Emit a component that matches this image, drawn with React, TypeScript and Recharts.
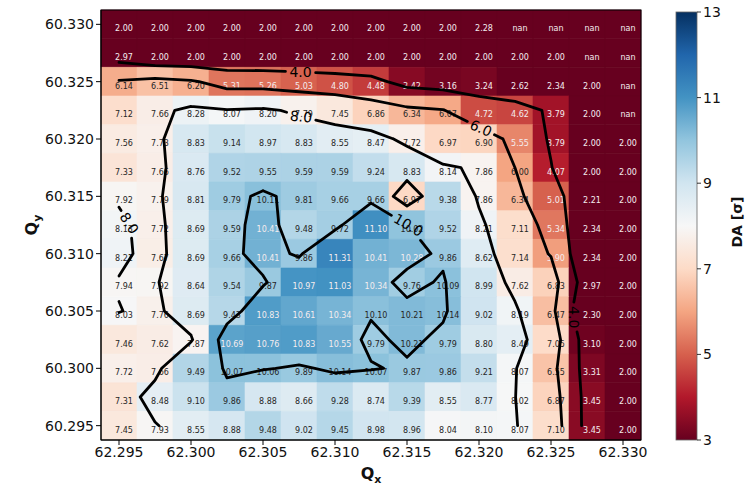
import React from 'react';
import { ScatterChart, Scatter, XAxis, YAxis, ReferenceArea } from 'recharts';

// Tune grid (cell centres)
const qx = [62.295, 62.2975, 62.3, 62.3025, 62.305, 62.3075, 62.31, 62.3125, 62.315, 62.3175, 62.32, 62.3225, 62.325, 62.3275, 62.33];
// rows listed from top (highest Qy) to bottom
const qy = [60.33, 60.3275, 60.325, 60.3225, 60.32, 60.3175, 60.315, 60.3125, 60.31, 60.3075, 60.305, 60.3025, 60.3, 60.2975, 60.295];

// Dynamic aperture [sigma]; null = nan
const daRows: (number | null)[][] = [
  [2.00, 2.00, 2.00, 2.00, 2.00, 2.00, 2.00, 2.00, 2.00, 2.00, 2.28, null, null, null, null],
  [2.97, 2.00, 2.00, 2.00, 2.00, 2.00, 2.00, 2.00, 2.00, 2.00, 2.00, 2.00, 2.00, null, null],
  [6.14, 6.51, 6.20, 5.31, 5.26, 5.03, 4.80, 4.48, 3.42, 3.16, 3.24, 2.62, 2.34, 2.00, null],
  [7.12, 7.66, 8.28, 8.07, 8.20, 7.79, 7.45, 6.86, 6.34, 6.07, 4.72, 4.62, 3.79, 2.00, null],
  [7.56, 7.73, 8.83, 9.14, 8.97, 8.83, 8.55, 8.47, 7.72, 6.97, 6.90, 5.55, 3.79, 2.00, 2.00],
  [7.33, 7.66, 8.76, 9.52, 9.55, 9.59, 9.59, 9.24, 8.83, 8.14, 7.86, 6.00, 4.07, 2.00, 2.00],
  [7.92, 7.79, 8.81, 9.79, 10.11, 9.81, 9.66, 9.66, 6.97, 9.38, 7.86, 6.34, 5.01, 2.21, 2.00],
  [8.13, 7.72, 8.69, 9.59, 10.41, 9.48, 9.72, 11.10, 10.02, 9.52, 8.21, 7.11, 5.34, 2.34, 2.00],
  [8.21, 7.67, 8.69, 9.66, 10.41, 9.86, 11.31, 10.41, 10.28, 9.86, 8.62, 7.14, 5.90, 2.34, 2.00],
  [7.94, 7.92, 8.64, 9.54, 9.87, 10.97, 11.03, 10.34, 9.76, 10.09, 8.99, 7.62, 6.83, 2.97, 2.00],
  [8.03, 7.76, 8.69, 9.43, 10.83, 10.61, 10.34, 10.10, 10.21, 10.14, 9.02, 8.19, 6.47, 2.30, 2.00],
  [7.46, 7.62, 7.87, 10.69, 10.76, 10.83, 10.55, 9.79, 10.21, 9.79, 8.80, 8.49, 7.05, 3.10, 2.00],
  [7.72, 7.66, 9.49, 10.07, 10.06, 9.89, 10.14, 10.07, 9.87, 9.86, 9.21, 8.07, 6.55, 3.31, 2.00],
  [7.31, 8.48, 9.10, 9.86, 8.88, 8.66, 9.28, 8.74, 9.39, 8.55, 8.77, 8.02, 6.87, 3.45, 2.00],
  [7.45, 7.93, 8.55, 8.88, 9.48, 9.02, 9.45, 8.98, 8.96, 8.04, 8.10, 8.07, 7.10, 3.45, 2.00],
];

const xTicks = [62.295, 62.3, 62.305, 62.31, 62.315, 62.32, 62.325, 62.33];
const yTicks = [60.295, 60.3, 60.305, 60.31, 60.315, 60.32, 60.325, 60.33];
const colorTicks = [3, 5, 7, 9, 11, 13];
const colorMin = 3;
const colorMax = 13;
const contourLevels = [4, 6, 8, 10];

// approximate anchor of each inline contour label (snapped onto its line)
const contourLabels = [
  { level: 4, x: 62.3076, y: 60.3257, angle: 0 },
  { level: 8, x: 62.3076, y: 60.3218, angle: 6 },
  { level: 6, x: 62.3201, y: 60.3209, angle: 24 },
  { level: 10, x: 62.3152, y: 60.3127, angle: 30 },
  { level: 8, x: 62.2958, y: 60.3127, angle: 57 },
  { level: 4, x: 62.3268, y: 60.3045, angle: 90 },
];

const RDBU = ['#67001f', '#b2182b', '#d6604d', '#f4a582', '#fddbc7', '#f7f7f7', '#d1e5f0', '#92c5de', '#4393c3', '#2166ac', '#053061'];

function hexToRgb(h: string) {
  return [parseInt(h.slice(1, 3), 16), parseInt(h.slice(3, 5), 16), parseInt(h.slice(5, 7), 16)];
}

function rdbu(v: number | null): string {
  if (v === null) return RDBU[0];
  let t = (v - colorMin) / (colorMax - colorMin);
  t = Math.max(0, Math.min(1, t));
  const p = t * 10;
  const i = Math.min(9, Math.floor(p));
  const f = p - i;
  const a = hexToRgb(RDBU[i]);
  const b = hexToRgb(RDBU[i + 1]);
  const c = a.map((av, k) => Math.round(av + (b[k] - av) * f));
  return `rgb(${c[0]},${c[1]},${c[2]})`;
}

const dX = qx[1] - qx[0];
const dY = qy[0] - qy[1];

type Seg = [number, number, number, number];

// marching squares over the grid
function contourSegments(z: (number | null)[][], level: number): Seg[] {
  const segs: Seg[] = [];
  for (let r = 0; r < z.length - 1; r++) {
    for (let c = 0; c < z[0].length - 1; c++) {
      const tl = z[r][c], tr = z[r][c + 1], br = z[r + 1][c + 1], bl = z[r + 1][c];
      if (tl === null || tr === null || br === null || bl === null) continue;
      const x0 = qx[c], x1 = qx[c + 1], y0 = qy[r], y1 = qy[r + 1];
      const lerp = (a: number, b: number, pa: number, pb: number) => pa + ((level - a) / (b - a)) * (pb - pa);
      const T = () => [lerp(tl, tr, x0, x1), y0];
      const R = () => [x1, lerp(tr, br, y0, y1)];
      const B = () => [lerp(bl, br, x0, x1), y1];
      const L = () => [x0, lerp(tl, bl, y0, y1)];
      const idx = (tl >= level ? 8 : 0) | (tr >= level ? 4 : 0) | (br >= level ? 2 : 0) | (bl >= level ? 1 : 0);
      const add = (p: number[], q: number[]) => segs.push([p[0], p[1], q[0], q[1]]);
      const mid = (tl + tr + br + bl) / 4;
      switch (idx) {
        case 1: case 14: add(L(), B()); break;
        case 2: case 13: add(B(), R()); break;
        case 3: case 12: add(L(), R()); break;
        case 4: case 11: add(T(), R()); break;
        case 6: case 9: add(T(), B()); break;
        case 7: case 8: add(L(), T()); break;
        case 5:
          if (mid >= level) { add(L(), T()); add(B(), R()); } else { add(L(), B()); add(T(), R()); }
          break;
        case 10:
          if (mid >= level) { add(T(), R()); add(L(), B()); } else { add(L(), T()); add(B(), R()); }
          break;
        default: break;
      }
    }
  }
  return segs;
}

function snapToSegments(segs: Seg[], x: number, y: number) {
  let best = { x, y, d: Infinity };
  for (const s of segs) {
    const ax = s[0] / dX, ay = s[1] / dY, bx = s[2] / dX, by = s[3] / dY;
    const px = x / dX, py = y / dY;
    const vx = bx - ax, vy = by - ay;
    const len2 = vx * vx + vy * vy;
    let t = len2 > 0 ? ((px - ax) * vx + (py - ay) * vy) / len2 : 0;
    t = Math.max(0, Math.min(1, t));
    const cx = ax + t * vx, cy = ay + t * vy;
    const d = (cx - px) ** 2 + (cy - py) ** 2;
    if (d < best.d) best = { x: cx * dX, y: cy * dY, d };
  }
  return best;
}

const labelFont = 14;

const contourSeries = contourLevels.map((level) => {
  const segs = contourSegments(daRows, level);
  const pts: any[] = [];
  segs.forEach((s) => {
    pts.push({ x: s[0], y: s[1], kind: 'seg' });
    pts.push({ x: s[2], y: s[3], kind: 'seg' });
  });
  const labs = contourLabels.filter((l) => l.level === level);
  const gaps: number[] = [];
  labs.forEach((l) => {
    const p = snapToSegments(segs, l.x, l.y);
    const text = level.toFixed(1);
    gaps.push((text.length - 1) * 0.636 * labelFont * 0.5 + 0.16 * labelFont + 4);
    pts.push({ x: p.x, y: p.y, kind: 'label', text, angle: l.angle });
  });
  return { level, segCount: segs.length, gaps, pts };
});

const cellData = daRows.flatMap((row, r) => row.map((v, c) => ({ x: qx[c], y: qy[r], v })));

function ContourPath(props: any) {
  const points: { x: number; y: number }[] = props.points || [];
  const segCount: number = props.segCount;
  const gaps: number[] = props.gaps || [];
  const labPts = points.slice(segCount * 2);
  let d = '';
  for (let i = 0; i < segCount; i++) {
    const a = points[2 * i], b = points[2 * i + 1];
    if (!a || !b) continue;
    let pieces: [number, number][] = [[0, 1]];
    labPts.forEach((c, j) => {
      const r = gaps[j];
      const vx = b.x - a.x, vy = b.y - a.y;
      const wx = a.x - c.x, wy = a.y - c.y;
      const A = vx * vx + vy * vy;
      if (A === 0) return;
      const Bq = 2 * (vx * wx + vy * wy);
      const C = wx * wx + wy * wy - r * r;
      const disc = Bq * Bq - 4 * A * C;
      if (disc <= 0) return;
      const t1 = (-Bq - Math.sqrt(disc)) / (2 * A);
      const t2 = (-Bq + Math.sqrt(disc)) / (2 * A);
      const next: [number, number][] = [];
      pieces.forEach(([s, e]) => {
        if (t2 <= s || t1 >= e) { next.push([s, e]); return; }
        if (t1 > s) next.push([s, t1]);
        if (t2 < e) next.push([t2, e]);
      });
      pieces = next;
    });
    pieces.forEach(([s, e]) => {
      if (e - s < 1e-6) return;
      const sx = a.x + (b.x - a.x) * s, sy = a.y + (b.y - a.y) * s;
      const ex = a.x + (b.x - a.x) * e, ey = a.y + (b.y - a.y) * e;
      d += `M${sx.toFixed(2)},${sy.toFixed(2)}L${ex.toFixed(2)},${ey.toFixed(2)}`;
    });
  }
  return <path d={d} fill="none" stroke="#000" strokeWidth={2.8} strokeLinecap="round" strokeLinejoin="round" />;
}

function ContourLabelShape(props: any) {
  const { cx, cy, payload } = props;
  if (!payload || payload.kind !== 'label') return <g />;
  return (
    <text
      x={cx}
      y={cy}
      transform={`rotate(${payload.angle} ${cx} ${cy})`}
      textAnchor="middle"
      dominantBaseline="central"
      fontSize={labelFont}
      fontFamily="DejaVu Sans"
      fill="#000"
    >
      {payload.text}
    </text>
  );
}

function CellLabel(props: any) {
  const { cx, cy, payload } = props;
  const v: number | null = payload.v;
  const light = v === null || v < 5.95 || v > 10.25;
  return (
    <text
      x={cx + 5}
      y={cy + 7}
      textAnchor="middle"
      fontSize={8}
      fontFamily="DejaVu Sans"
      fill={light ? '#f4ecee' : '#262626'}
    >
      {v === null ? 'nan' : v.toFixed(2)}
    </text>
  );
}

// layout of the plot box (pixels)
const plotLeft = 101;
const plotTop = 10;
const plotW = 540;
const plotH = 430;
const cbX = 676;
const cbY = 12;
const cbW = 21;
const cbH = 428;

export default function App() {
  const cbScale = (v: number) => cbY + ((colorMax - v) / (colorMax - colorMin)) * cbH;
  return (
    <div style={{ position: 'absolute', left: 0, top: 0, width: 750, height: 485, background: '#fff', fontFamily: 'DejaVu Sans' }}>
      <ScatterChart width={750} height={485} margin={{ top: plotTop, right: 750 - plotLeft - plotW, bottom: 0, left: 6 }}>
        <XAxis
          type="number"
          dataKey="x"
          domain={[qx[0] - dX / 2, qx[qx.length - 1] + dX / 2]}
          ticks={xTicks}
          allowDataOverflow
          height={45}
          tickSize={5}
          tickFormatter={(v: number) => v.toFixed(3)}
          tick={{ fontSize: 14, fill: '#111', fontFamily: 'DejaVu Sans' }}
          stroke="#000"
        />
        <YAxis
          type="number"
          dataKey="y"
          domain={[qy[qy.length - 1] - dY / 2, qy[0] + dY / 2]}
          ticks={yTicks}
          allowDataOverflow
          width={95}
          tickSize={5}
          tickFormatter={(v: number) => v.toFixed(3)}
          tick={{ fontSize: 14, fill: '#111', fontFamily: 'DejaVu Sans' }}
          stroke="#000"
        />
        {cellData.map((cell, i) => (
          <ReferenceArea
            key={`cell-${i}`}
            x1={cell.x - dX / 2}
            x2={cell.x + dX / 2}
            y1={cell.y - dY / 2}
            y2={cell.y + dY / 2}
            fill={rdbu(cell.v)}
            fillOpacity={1}
            stroke={rdbu(cell.v)}
            strokeWidth={0.6}
            ifOverflow="visible"
          />
        ))}
        <Scatter data={cellData} shape={(p: any) => <CellLabel {...p} />} isAnimationActive={false} />
        {contourSeries.map((s) => (
          <Scatter
            key={`contour-${s.level}`}
            data={s.pts}
            line={<ContourPath segCount={s.segCount} gaps={s.gaps} />}
            shape={(p: any) => <ContourLabelShape {...p} />}
            isAnimationActive={false}
          />
        ))}
      </ScatterChart>
      <svg width={750} height={485} style={{ position: 'absolute', left: 0, top: 0, pointerEvents: 'none' }}>
        <defs>
          <linearGradient id="rdbuBar" x1="0" y1="1" x2="0" y2="0">
            {RDBU.map((c, i) => (
              <stop key={i} offset={`${i * 10}%`} stopColor={c} />
            ))}
          </linearGradient>
        </defs>
        <rect x={plotLeft} y={plotTop} width={plotW} height={plotH} fill="none" stroke="#000" strokeWidth={1} />
        <text x={plotLeft + plotW / 2} y={479} textAnchor="middle" fontSize={16} fontWeight="bold" fontFamily="DejaVu Sans" fill="#111">
          Q<tspan fontSize={11} dy={4}>x</tspan>
        </text>
        <text transform={`translate(37,${plotTop + plotH / 2}) rotate(-90)`} textAnchor="middle" fontSize={16} fontWeight="bold" fontFamily="DejaVu Sans" fill="#111">
          Q<tspan fontSize={11} dy={4}>y</tspan>
        </text>
        <rect x={cbX} y={cbY} width={cbW} height={cbH} fill="url(#rdbuBar)" stroke="#666" strokeWidth={0.8} />
        {colorTicks.map((t) => (
          <g key={t}>
            <line x1={cbX + cbW} x2={cbX + cbW + 4} y1={cbScale(t)} y2={cbScale(t)} stroke="#000" strokeWidth={0.8} />
            <text x={cbX + cbW + 6} y={cbScale(t)} dominantBaseline="central" fontSize={14} fontFamily="DejaVu Sans" fill="#111">
              {t}
            </text>
          </g>
        ))}
        <text transform={`translate(742,222) rotate(-90)`} textAnchor="middle" fontSize={14} fontWeight="bold" fontFamily="DejaVu Sans" fill="#111">
          DA [σ]
        </text>
      </svg>
    </div>
  );
}
